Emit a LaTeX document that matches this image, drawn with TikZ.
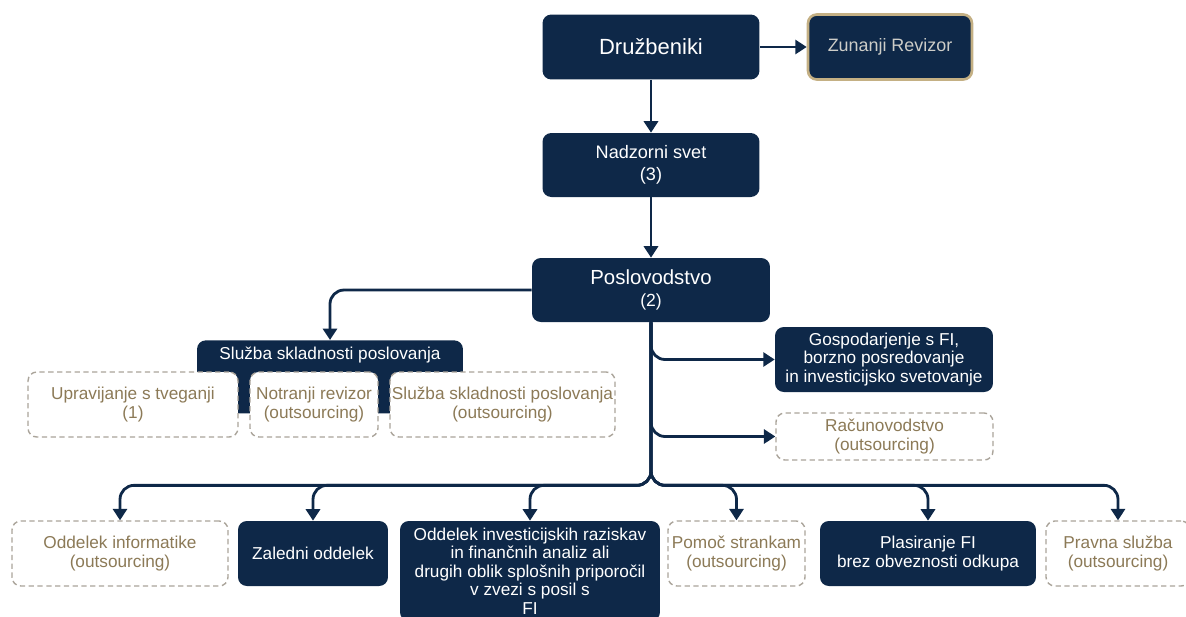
\documentclass[tikz,border=0pt]{standalone}
\usepackage{fontspec}
\setmainfont{Liberation Sans}
\usetikzlibrary{arrows.meta,positioning}

\definecolor{navy}{RGB}{14,40,72}
\definecolor{tanText}{RGB}{140,122,87}
\definecolor{dashGrey}{RGB}{170,164,154}
\definecolor{goldEdge}{RGB}{196,176,132}

\tikzset{
	darkbox/.style={fill=navy,text=white,rounded corners=5pt,align=center,
		inner sep=0pt,font=\fontsize{9.8}{10.6}\selectfont},
	outbox/.style={draw=dashGrey,dashed,line width=0.8pt,fill=white,text=tanText,
		rounded corners=5pt,align=center,inner sep=0pt,
		dash pattern=on 3pt off 2pt,font=\fontsize{9.8}{11}\selectfont},
	link/.style={->,draw=navy,line width=1.6pt,rounded corners=8pt}
}

\begin{document}
\begin{tikzpicture}[x=0.02cm,y=-0.02cm,>={Triangle[length=6.5pt,width=8pt]}]

\useasboundingbox (0,0) rectangle (1186,616);

% top of the chart
\node[darkbox,minimum width=4.34cm,minimum height=1.3cm,
	font=\fontsize{12.5}{15}\selectfont] (druz) at (651,47) {Družbeniki};
\node[darkbox,draw=goldEdge,line width=1.5pt,minimum width=3.28cm,minimum height=1.3cm,
	text={rgb,255:red,205;green,205;blue,200},font=\fontsize{10.2}{12}\selectfont]
	(zun) at (890,47) {Zunanji Revizor};
\node[darkbox,minimum width=4.34cm,minimum height=1.28cm,
	font=\fontsize{10.3}{12.5}\selectfont] (nad) at (651,165) {Nadzorni svet\\(3)};
\node[darkbox,minimum width=4.76cm,minimum height=1.28cm,font=\fontsize{10}{13}\selectfont]
	(pos) at (651,290) {{\fontsize{11.6}{13}\selectfont Poslovodstvo}\\(2)};

% compliance group
\node[darkbox,minimum width=5.32cm,minimum height=1.46cm,anchor=north] (sks) at (330,340) {};
\node[text=white,font=\fontsize{9.8}{11}\selectfont] (sksl) at (330,355) {Služba skladnosti poslovanja};
\node[outbox,minimum width=4.2cm,minimum height=1.3cm] (tveg) at (133,404.5)
	{Upravijanje s tveganji\\(1)};
\node[outbox,minimum width=2.56cm,minimum height=1.3cm] (notr) at (314,404.5)
	{Notranji revizor\\(outsourcing)};
\node[outbox,minimum width=4.5cm,minimum height=1.3cm] (skso) at (502.5,404.5)
	{Služba skladnosti poslovanja\\(outsourcing)};

% right side
\node[darkbox,minimum width=4.36cm,minimum height=1.3cm] (gosp) at (884,359.5)
	{Gospodarjenje s FI,\\borzno posredovanje\\in investicijsko svetovanje};
\node[outbox,minimum width=4.34cm,minimum height=0.94cm] (racun) at (884.5,436.5)
	{Računovodstvo\\(outsourcing)};

% bottom row
\node[outbox,minimum width=4.32cm,minimum height=1.3cm] (info) at (120,553.5)
	{Oddelek informatike\\(outsourcing)};
\node[darkbox,minimum width=3.0cm,minimum height=1.3cm] (zal) at (313,553.5) {Zaledni oddelek};
\node[darkbox,minimum width=5.2cm,minimum height=2.0cm] (inv) at (530,571)
	{Oddelek investicijskih raziskav\\in finančnih analiz ali\\drugih oblik splošnih priporočil\\v zvezi s posil s\\FI};
\node[outbox,minimum width=2.74cm,minimum height=1.3cm] (pomoc) at (736.5,553.5)
	{Pomoč strankam\\(outsourcing)};
\node[darkbox,minimum width=4.32cm,minimum height=1.3cm] (plas) at (928,553.5)
	{Plasiranje FI\\brez obveznosti odkupa};
\node[outbox,minimum width=2.88cm,minimum height=1.3cm] (prav) at (1118,553.5)
	{Pravna služba\\(outsourcing)};

% connectors
\draw[link] (druz) -- (nad);
\draw[link] (nad) -- (pos);
\draw[link] (druz) -- (zun);
\draw[link] (pos.west) -| (sks.north);
\draw[link] (pos.south) |- (gosp.west);
\draw[link] (pos.south) |- (racun.west);
\foreach \n in {info,zal,inv,pomoc,plas,prav}{
	\draw[link] (pos.south) -- ++(0,163) -| (\n.north);
}

\end{tikzpicture}
\end{document}
